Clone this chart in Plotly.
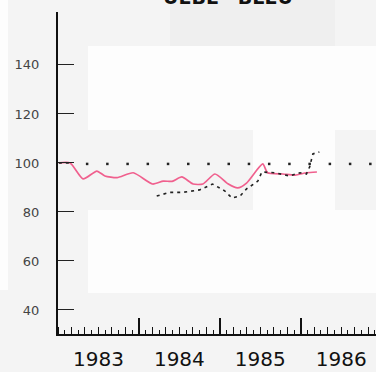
import plotly.graph_objects as go

# Pink (solid) series
pink_x = [1983.01, 1983.15, 1983.31, 1983.48, 1983.58, 1983.73, 1983.93, 1984.17, 1984.30,
          1984.41, 1984.53, 1984.67, 1984.79, 1984.94, 1985.10, 1985.22, 1985.33, 1985.53,
          1985.59, 1985.78, 1985.93, 1986.07, 1986.20]
pink_y = [100, 100, 93.5, 96.7, 94.7, 94.0, 96.0, 91.4, 92.6,
          92.5, 94.3, 91.4, 91.4, 95.5, 91.5, 89.8, 91.8, 99.6,
          96.0, 95.5, 95.0, 96.0, 96.3]

# Black (dashed) series
black_x = [1983.01, 1983.14, None, 1984.22, 1984.38, 1984.54, 1984.75, 1984.91, 1985.06, 1985.15,
           1985.25, 1985.33, 1985.47, 1985.52, 1985.68, 1985.86, 1985.99, 1986.07,
           1986.11, 1986.15, 1986.23]
black_y = [100, 100, None, 86.5, 88.0, 88.0, 89.0, 91.4, 88.6, 85.7,
           86.5, 89.4, 92.6, 96.3, 96.0, 94.7, 96.0, 95.5,
           98.4, 103.7, 104.5]

# Reference level (dotted, quarterly dots)
ref_x = [1983.36, 1983.61, 1983.86, 1984.11, 1984.36, 1984.61, 1984.86, 1985.11,
         1985.36, 1985.61, 1985.86, 1986.11, 1986.36, 1986.61, 1986.86]
ref_y = [99.6] * len(ref_x)

y_ticks = [40, 60, 80, 100, 120, 140]
year_pos = [1983.5, 1984.5, 1985.5, 1986.5]
year_labels = ["1983", "1984", "1985", "1986"]
title_text = "UEBL   BLEU"

W, H = 376, 372
L, R, T, B = 58, 0, 12, 38
PW, PH = W - L - R, H - T - B


def px(xp):
    return (xp - L) / PW


def py(yp):
    return (H - B - yp) / PH


fig = go.Figure()
fig.add_trace(go.Scatter(x=ref_x, y=ref_y, mode="markers",
                         marker=dict(symbol="square", size=2.5, color="#222"),
                         showlegend=False, hoverinfo="skip"))
fig.add_trace(go.Scatter(x=pink_x, y=pink_y, mode="lines",
                         line=dict(color="#f0608e", width=1.7, shape="spline", smoothing=0.6),
                         showlegend=False))
fig.add_trace(go.Scatter(x=black_x, y=black_y, mode="lines",
                         line=dict(color="#222", width=1.6, dash="3px,4px"),
                         connectgaps=False, showlegend=False))
# invisible trace to bind xaxis2
fig.add_trace(go.Scatter(x=[1983], y=[100], xaxis="x2", mode="markers",
                         marker=dict(opacity=0), showlegend=False, hoverinfo="skip"))

# scan background patches (lighter areas)
patches = [(88, 46, 376, 130), (88, 210, 376, 293), (253, 130, 335, 210), (0, 0, 8, 290)]
shapes = []
for x0, y0, x1, y1 in patches:
    shapes.append(dict(type="rect", xref="paper", yref="paper", layer="below",
                       x0=px(x0), x1=px(x1), y0=py(y1), y1=py(y0),
                       fillcolor="#fdfdfd", line=dict(width=0)))
shapes.append(dict(type="rect", xref="paper", yref="paper", layer="below",
                   x0=px(170), x1=px(335), y0=py(46), y1=py(-5),
                   fillcolor="#efefef", line=dict(width=0)))

fig.update_layout(
    width=W, height=H,
    margin=dict(l=L, r=R, t=T, b=B, pad=0),
    paper_bgcolor="#f4f4f4",
    plot_bgcolor="rgba(0,0,0,0)",
    font=dict(family="DejaVu Sans", color="#222"),
    shapes=shapes,
    xaxis=dict(range=[1983, 1986.93], showgrid=False, zeroline=False,
               showline=True, linecolor="#111", linewidth=2,
               tickmode="array", tickvals=[1983, 1984, 1985, 1986, 1987],
               ticks="inside", ticklen=16, tickwidth=2, tickcolor="#111",
               showticklabels=False,
               minor=dict(tickmode="linear", tick0=1983, dtick=1/12,
                          ticks="inside", ticklen=4, tickwidth=1.3, tickcolor="#111")),
    xaxis2=dict(range=[1983, 1986.93], overlaying="x", anchor="y", side="bottom",
                matches="x", showgrid=False, zeroline=False, showline=False,
                tickmode="array", tickvals=year_pos, ticktext=year_labels,
                ticks="", ticklabelstandoff=11,
                tickfont=dict(size=20, color="#111", family="DejaVu Sans"),
                minor=dict(tickmode="linear", tick0=1983, dtick=1/6,
                           ticks="inside", ticklen=7, tickwidth=1.3, tickcolor="#111")),
    yaxis=dict(range=[30.2, 161.6], showgrid=False, zeroline=False,
               showline=True, linecolor="#111", linewidth=2,
               tickmode="array", tickvals=y_ticks,
               ticks="inside", ticklen=16, tickwidth=1.3, tickcolor="#222",
               ticklabelstandoff=14,
               tickfont=dict(size=13, color="#444", family="DejaVu Sans")),
    annotations=[dict(text="<b>" + title_text.replace(" ", "&nbsp;") + "</b>",
                      xref="paper", yref="paper", x=px(228), y=py(-3),
                      xanchor="center", yanchor="middle", showarrow=False,
                      font=dict(size=19, color="#111", family="DejaVu Sans"))],
)

fig.write_html("out.html", config={"displayModeBar": False},
               post_script="document.body.style.margin='0';document.body.style.overflow='hidden';")
